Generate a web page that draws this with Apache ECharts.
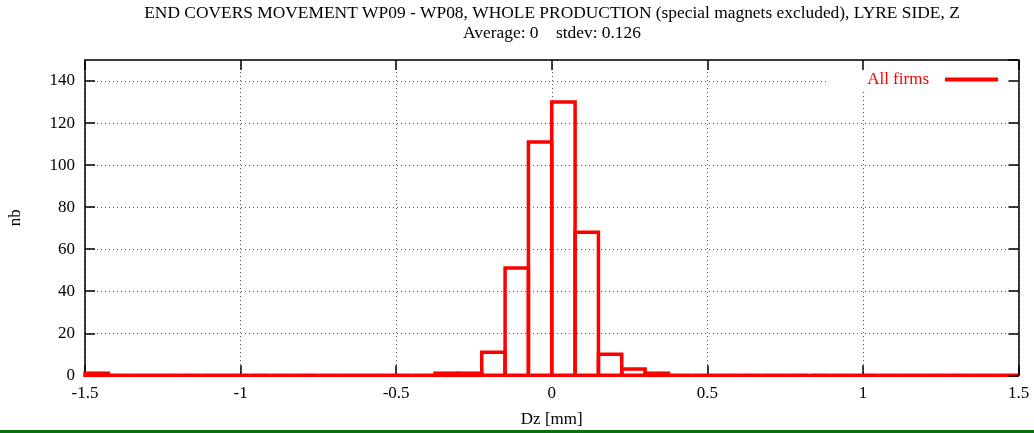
<!DOCTYPE html>
<html>
<head>
<meta charset="utf-8">
<script src="https://cdn.jsdelivr.net/npm/echarts@6/dist/echarts.min.js"></script>
<style>
  html, body { margin: 0; padding: 0; background: #ffffff; }
  #chart { width: 1034px; height: 433px; }
</style>
</head>
<body>
<div id="chart"></div>
<script>
// Histogram of Dz [mm], bins 0.075 mm wide from -1.5 to 1.5
const binLow = [
  -1.5, -1.425, -1.35, -1.275, -1.2, -1.125, -1.05, -0.975, -0.9, -0.825,
  -0.75, -0.675, -0.6, -0.525, -0.45, -0.375, -0.3, -0.225, -0.15, -0.075,
  0, 0.075, 0.15, 0.225, 0.3, 0.375, 0.45, 0.525, 0.6, 0.675,
  0.75, 0.825, 0.9, 0.975, 1.05, 1.125, 1.2, 1.275, 1.35, 1.425
];
const binWidth = 0.075;
const counts = [
  1, 0, 0, 0, 0, 0, 0, 0, 0, 0,
  0, 0, 0, 0, 0, 1, 1, 11, 51, 111,
  130, 68, 10, 3, 1, 0, 0, 0, 0, 0,
  0, 0, 0, 0, 0, 0, 0, 0, 0, 0
];
const seriesName = 'All firms';
const titleLines = [
  'END COVERS MOVEMENT WP09 - WP08, WHOLE PRODUCTION (special magnets excluded), LYRE SIDE, Z',
  'Average: 0    stdev: 0.126'
];
const xName = 'Dz [mm]';
const yName = 'nb';

const FONT = '"Liberation Serif", "DejaVu Serif", serif';
const RED = '#ff0000';

const boxes = binLow.map((lo, i) => [lo, lo + binWidth, counts[i]]);

const chart = echarts.init(document.getElementById('chart'), null, { renderer: 'canvas' });

const gridLine = { show: true, lineStyle: { color: '#555', width: 1, type: [1, 3] } };
const frameLine = { show: true, onZero: false, lineStyle: { color: '#000', width: 1.5 } };
const inTick = { show: true, inside: true, length: 10, lineStyle: { color: '#000', width: 1.5 } };

chart.setOption({
  animation: false,
  backgroundColor: '#ffffff',
  title: {
    text: titleLines.join('\n'),
    left: 552,
    top: 3,
    padding: 0,
    textAlign: 'center',
    textStyle: {
      fontFamily: FONT, fontSize: 17.4, fontWeight: 'normal',
      color: '#000', lineHeight: 20.5
    }
  },
  legend: {
    data: [{ name: seriesName, icon: 'rect' }],
    right: 16,
    top: 61,
    z: 1,
    align: 'right',
    itemWidth: 53,
    itemHeight: 4,
    backgroundColor: '#ffffff',
    padding: [10, 20, 1, 40],
    selectedMode: false,
    textStyle: {
      fontFamily: FONT, fontSize: 17, color: RED,
      padding: [0, 11, 0, 0]
    }
  },
  grid: {
    left: 85, right: 15.5, top: 60, bottom: 57.7,
    containLabel: false, outerBoundsMode: 'none'
  },
  xAxis: [
    {
      type: 'value', min: -1.5, max: 1.5, interval: 0.5, position: 'bottom',
      name: xName, nameLocation: 'middle', nameGap: 36,
      nameTextStyle: { fontFamily: FONT, fontSize: 17, color: '#000' },
      axisLine: frameLine, axisTick: inTick, splitLine: gridLine,
      axisLabel: { fontFamily: FONT, fontSize: 17, color: '#000', margin: 10 }
    },
    {
      type: 'value', min: -1.5, max: 1.5, interval: 0.5, position: 'top', z: 5,
      axisLine: frameLine, axisTick: inTick, splitLine: { show: false },
      axisLabel: { show: false }
    }
  ],
  yAxis: [
    {
      type: 'value', min: 0, max: 150, interval: 20, position: 'left',
      name: yName, nameLocation: 'middle', nameGap: 61, nameRotate: 90,
      nameTextStyle: { fontFamily: FONT, fontSize: 17, color: '#000' },
      axisLine: frameLine, axisTick: inTick, splitLine: gridLine,
      axisLabel: { fontFamily: FONT, fontSize: 17, color: '#000', margin: 10, showMaxLabel: false }
    },
    {
      type: 'value', min: 0, max: 150, interval: 20, position: 'right', z: 5,
      axisLine: frameLine, axisTick: inTick, splitLine: { show: false },
      axisLabel: { show: false }
    }
  ],
  series: [{
    name: seriesName,
    type: 'custom',
    xAxisIndex: 0,
    yAxisIndex: 0,
    z: 3,
    clip: false,
    itemStyle: { color: RED },
    data: boxes,
    renderItem: function (params, api) {
      const p0 = api.coord([api.value(0), 0]);
      const p1 = api.coord([api.value(1), api.value(2)]);
      return {
        type: 'rect',
        shape: { x: p0[0], y: p1[1], width: p1[0] - p0[0], height: p0[1] - p1[1] },
        style: { fill: 'none', stroke: RED, lineWidth: 3.5 }
      };
    }
  }],
  graphic: [{
    type: 'rect',
    left: 0, top: 430,
    shape: { width: 1034, height: 3 },
    style: { fill: '#0a6e0a' },
    silent: true
  }]
});
</script>
</body>
</html>
